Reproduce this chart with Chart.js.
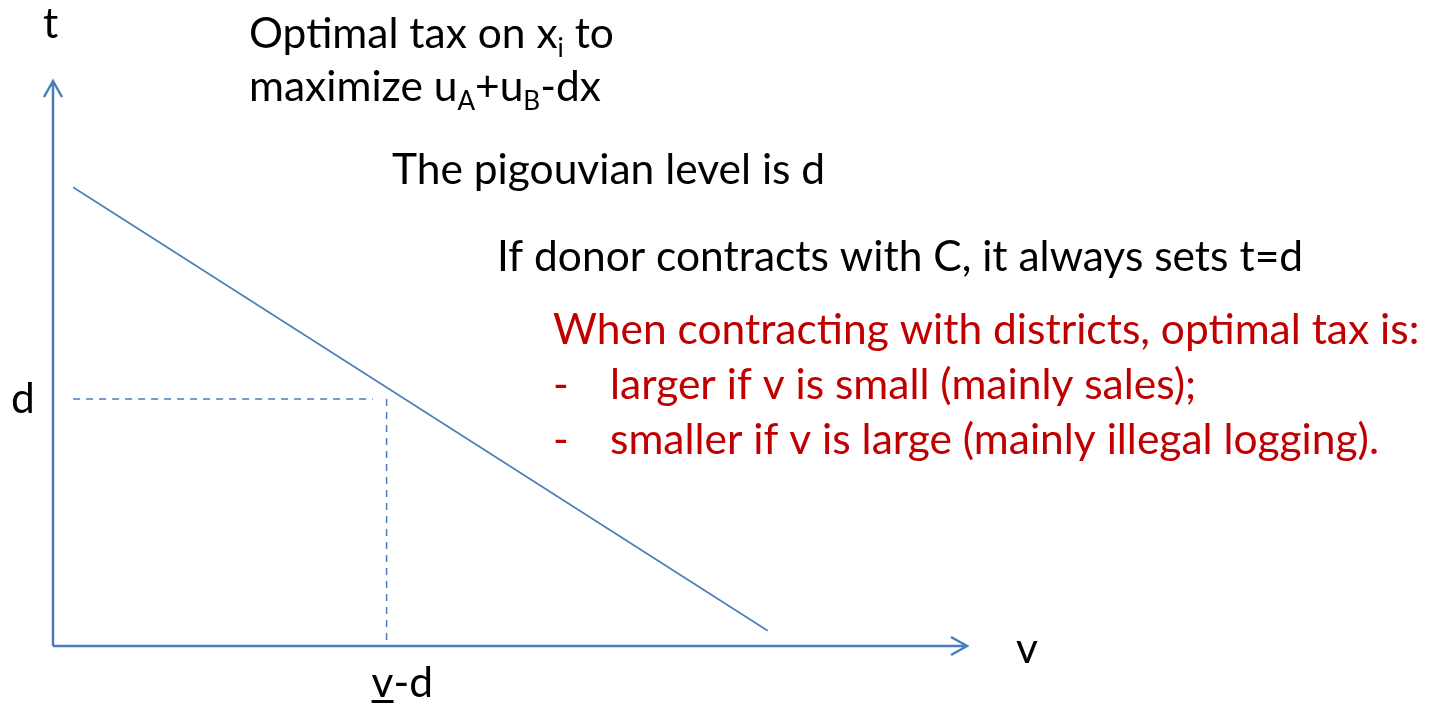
<!DOCTYPE html>
<html>
<head>
<meta charset="utf-8">
<title>Optimal tax</title>
<script src="https://cdn.jsdelivr.net/npm/chart.js@4/dist/chart.umd.min.js"></script>
<style>
  html, body { margin: 0; padding: 0; background: #fff; }
  #wrap { width: 1432px; height: 707px; }
</style>
</head>
<body>
<div id="wrap"><canvas id="taxChart" width="1432" height="707"></canvas></div>
<script>
// t against v, arbitrary units
var demandLine = [[0.22, 8.12], [7.82, 0.27]];
var pigouLevel = 4.37;    // d
var cutoffV = 3.65;       // v-d
var dashStartX = 0.22;
var dashEndX = 3.50;

var blue = "#4a7ebb";
var red = "#c00000";
var FONT = "Lato, 'Open Sans', sans-serif";

function pts(arr) {
  return arr.map(function(p) { return {x: p[0], y: p[1]}; });
}

// text runs: [text, isSubscript]
function drawRuns(ctx, runs, x, y, size, color) {
  ctx.fillStyle = color;
  ctx.textBaseline = "alphabetic";
  ctx.textAlign = "left";
  runs.forEach(function(r) {
    if (r[1]) {
      ctx.font = Math.round(size * 0.62) + "px " + FONT;
      ctx.fillText(r[0], x, y + size * 0.2);
    } else {
      ctx.font = size + "px " + FONT;
      ctx.fillText(r[0], x, y);
    }
    x += ctx.measureText(r[0]).width;
  });
}

var slideText = {
  id: "slideText",
  afterDraw: function(chart) {
    var ctx = chart.ctx;
    var xs = chart.scales.x, ys = chart.scales.y;
    var x0 = xs.getPixelForValue(0), y0 = ys.getPixelForValue(0);
    var xTop = xs.getPixelForValue(xs.max), yTop = ys.getPixelForValue(ys.max);
    var fs = 42.5;

    ctx.save();
    // axes with open arrow heads
    ctx.strokeStyle = blue;
    ctx.lineWidth = 2.5;
    ctx.beginPath();
    ctx.moveTo(x0, y0); ctx.lineTo(x0, yTop);
    ctx.moveTo(x0, y0); ctx.lineTo(xTop, y0);
    ctx.moveTo(x0 - 9, yTop + 16); ctx.lineTo(x0, yTop); ctx.lineTo(x0 + 9, yTop + 16);
    ctx.moveTo(xTop - 16, y0 - 9); ctx.lineTo(xTop, y0); ctx.lineTo(xTop - 16, y0 + 9);
    ctx.stroke();

    // axis names and marks
    drawRuns(ctx, [["t"]], x0 - 10, 38, fs, "#000");
    drawRuns(ctx, [["v"]], xTop + 49, y0 + 17, fs, "#000");
    drawRuns(ctx, [["d"]], 11, ys.getPixelForValue(pigouLevel) + 14, fs, "#000");
    var vx = xs.getPixelForValue(cutoffV) - 15;
    ctx.font = fs + "px " + FONT;
    var vw = ctx.measureText("v").width;
    drawRuns(ctx, [["v-d"]], vx, 697, fs, "#000");
    ctx.fillStyle = "#000";
    ctx.fillRect(vx, 700, vw, 3);

    // notes
    drawRuns(ctx, [["Optimal tax on x"], ["i", 1], [" to"]], 249, 48, fs, "#000");
    drawRuns(ctx, [["maximize u"], ["A", 1], ["+u"], ["B", 1], ["-dx"]], 249, 101, fs, "#000");
    drawRuns(ctx, [["The pigouvian level is d"]], 392, 184, fs, "#000");
    drawRuns(ctx, [["If donor contracts with C, it always sets t=d"]], 497, 271, fs, "#000");
    drawRuns(ctx, [["When contracting with districts, optimal tax is:"]], 553, 344, fs, red);
    drawRuns(ctx, [["-"]], 553, 399, fs, red);
    drawRuns(ctx, [["larger if v is small (mainly sales);"]], 610, 399, fs, red);
    drawRuns(ctx, [["-"]], 553, 454, fs, red);
    drawRuns(ctx, [["smaller if v is large (mainly illegal logging)."]], 610, 454, fs, red);
    ctx.restore();
  }
};

new Chart(document.getElementById("taxChart"), {
  type: "scatter",
  data: {
    datasets: [
      {
        data: pts(demandLine),
        showLine: true,
        borderColor: blue,
        borderWidth: 1.6,
        pointRadius: 0
      },
      {
        data: pts([[dashStartX, pigouLevel], [dashEndX, pigouLevel]]),
        showLine: true,
        borderColor: blue,
        borderWidth: 1.5,
        borderDash: [7, 6],
        pointRadius: 0
      },
      {
        data: pts([[cutoffV, pigouLevel], [cutoffV, 0]]),
        showLine: true,
        borderColor: blue,
        borderWidth: 1.5,
        borderDash: [7, 6],
        pointRadius: 0
      }
    ]
  },
  options: {
    responsive: false,
    animation: false,
    layout: { padding: { left: 53, right: 465, top: 81, bottom: 61 } },
    scales: {
      x: { type: "linear", min: 0, max: 10, display: false },
      y: { type: "linear", min: 0, max: 10, display: false }
    },
    plugins: {
      legend: { display: false },
      tooltip: { enabled: false }
    }
  },
  plugins: [slideText]
});
</script>
</body>
</html>
